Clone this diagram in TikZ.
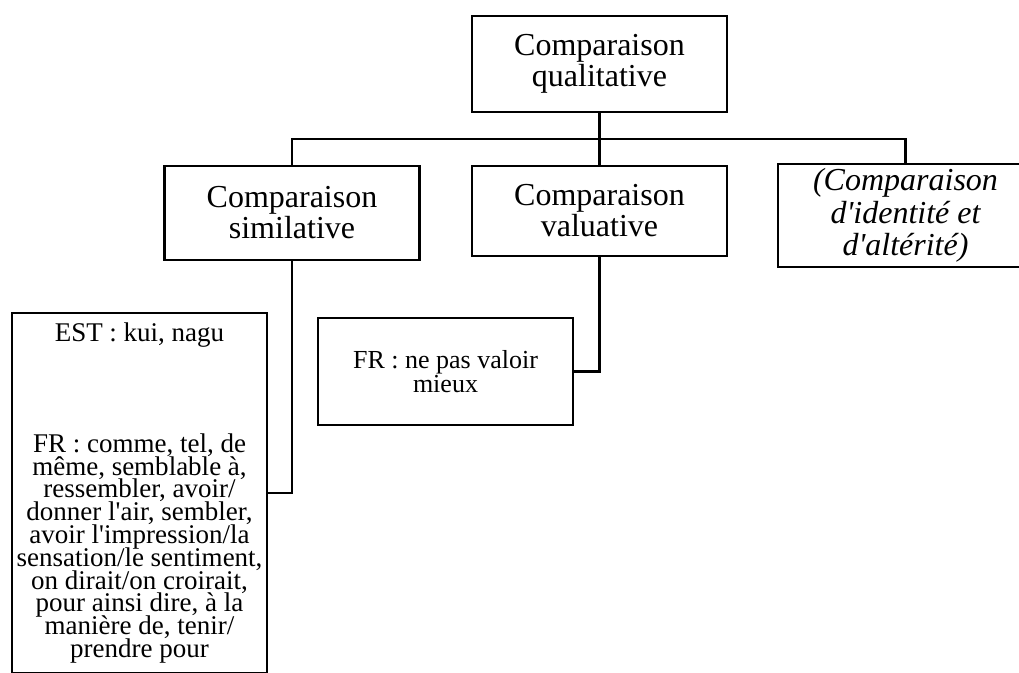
\documentclass[tikz,border=0pt]{standalone}
\usepackage{fontspec}
\setmainfont{Liberation Serif}[Ligatures=TeXOff]
\usetikzlibrary{positioning}
\newcommand\tightlines{\lineskiplimit=-100pt\relax}
\tikzset{
  box/.style={draw, line width=2.2pt, minimum width=255pt, align=center, inner sep=2pt},
  big/.style={font=\fontsize{32}{31}\selectfont\tightlines},
  small/.style={font=\fontsize{27}{22.8}\selectfont\tightlines},
  link/.style={line width=2.2pt},
}

\begin{document}
\begin{tikzpicture}[x=1pt, y=-1pt]

        \clip (0,0) rectangle (1019,672);

        % first level
        \node [box, big, minimum height=96pt] (qual) at (599.5,64) {Comparaison\\qualitative};

        % second level
        \node [box, big, minimum height=94pt] (simil) at (292,213) {Comparaison\\similative};
        \node [box, big, minimum height=90pt] (valu) at (599.5,211) {Comparaison\\valuative};
        \node [box, big, minimum height=103pt, font=\fontsize{32}{32.5}\selectfont\itshape\tightlines]
              (ident) at (905.5,215.5) {(Comparaison\\d'identité et\\d'altérité)};

        % examples
        \node [box, small, minimum height=360pt] (est) at (139.5,493)
              {EST : kui, nagu\\[88pt]
               FR : comme, tel, de\\
               même, semblable à,\\
               ressembler, avoir/\\
               donner l'air, sembler,\\
               avoir l'impression/la\\
               sensation/le sentiment,\\
               on dirait/on croirait,\\
               pour ainsi dire, à la\\
               manière de, tenir/\\
               prendre pour};
        \node [box, minimum height=107pt, font=\fontsize{26}{24}\selectfont\tightlines]
              (valoir) at (445.5,371.5) {FR : ne pas valoir\\mieux};

        \coordinate (bar) at (599.5,139);

        \draw [link] (qual.south) -- (valu.north);
        \draw [link] (simil.north) |- (bar) -| (ident.north);
        \draw [link] (simil.south) |- (est.east);
        \draw [link] (valu.south) |- (valoir.east);
      \end{tikzpicture}
\end{document}
